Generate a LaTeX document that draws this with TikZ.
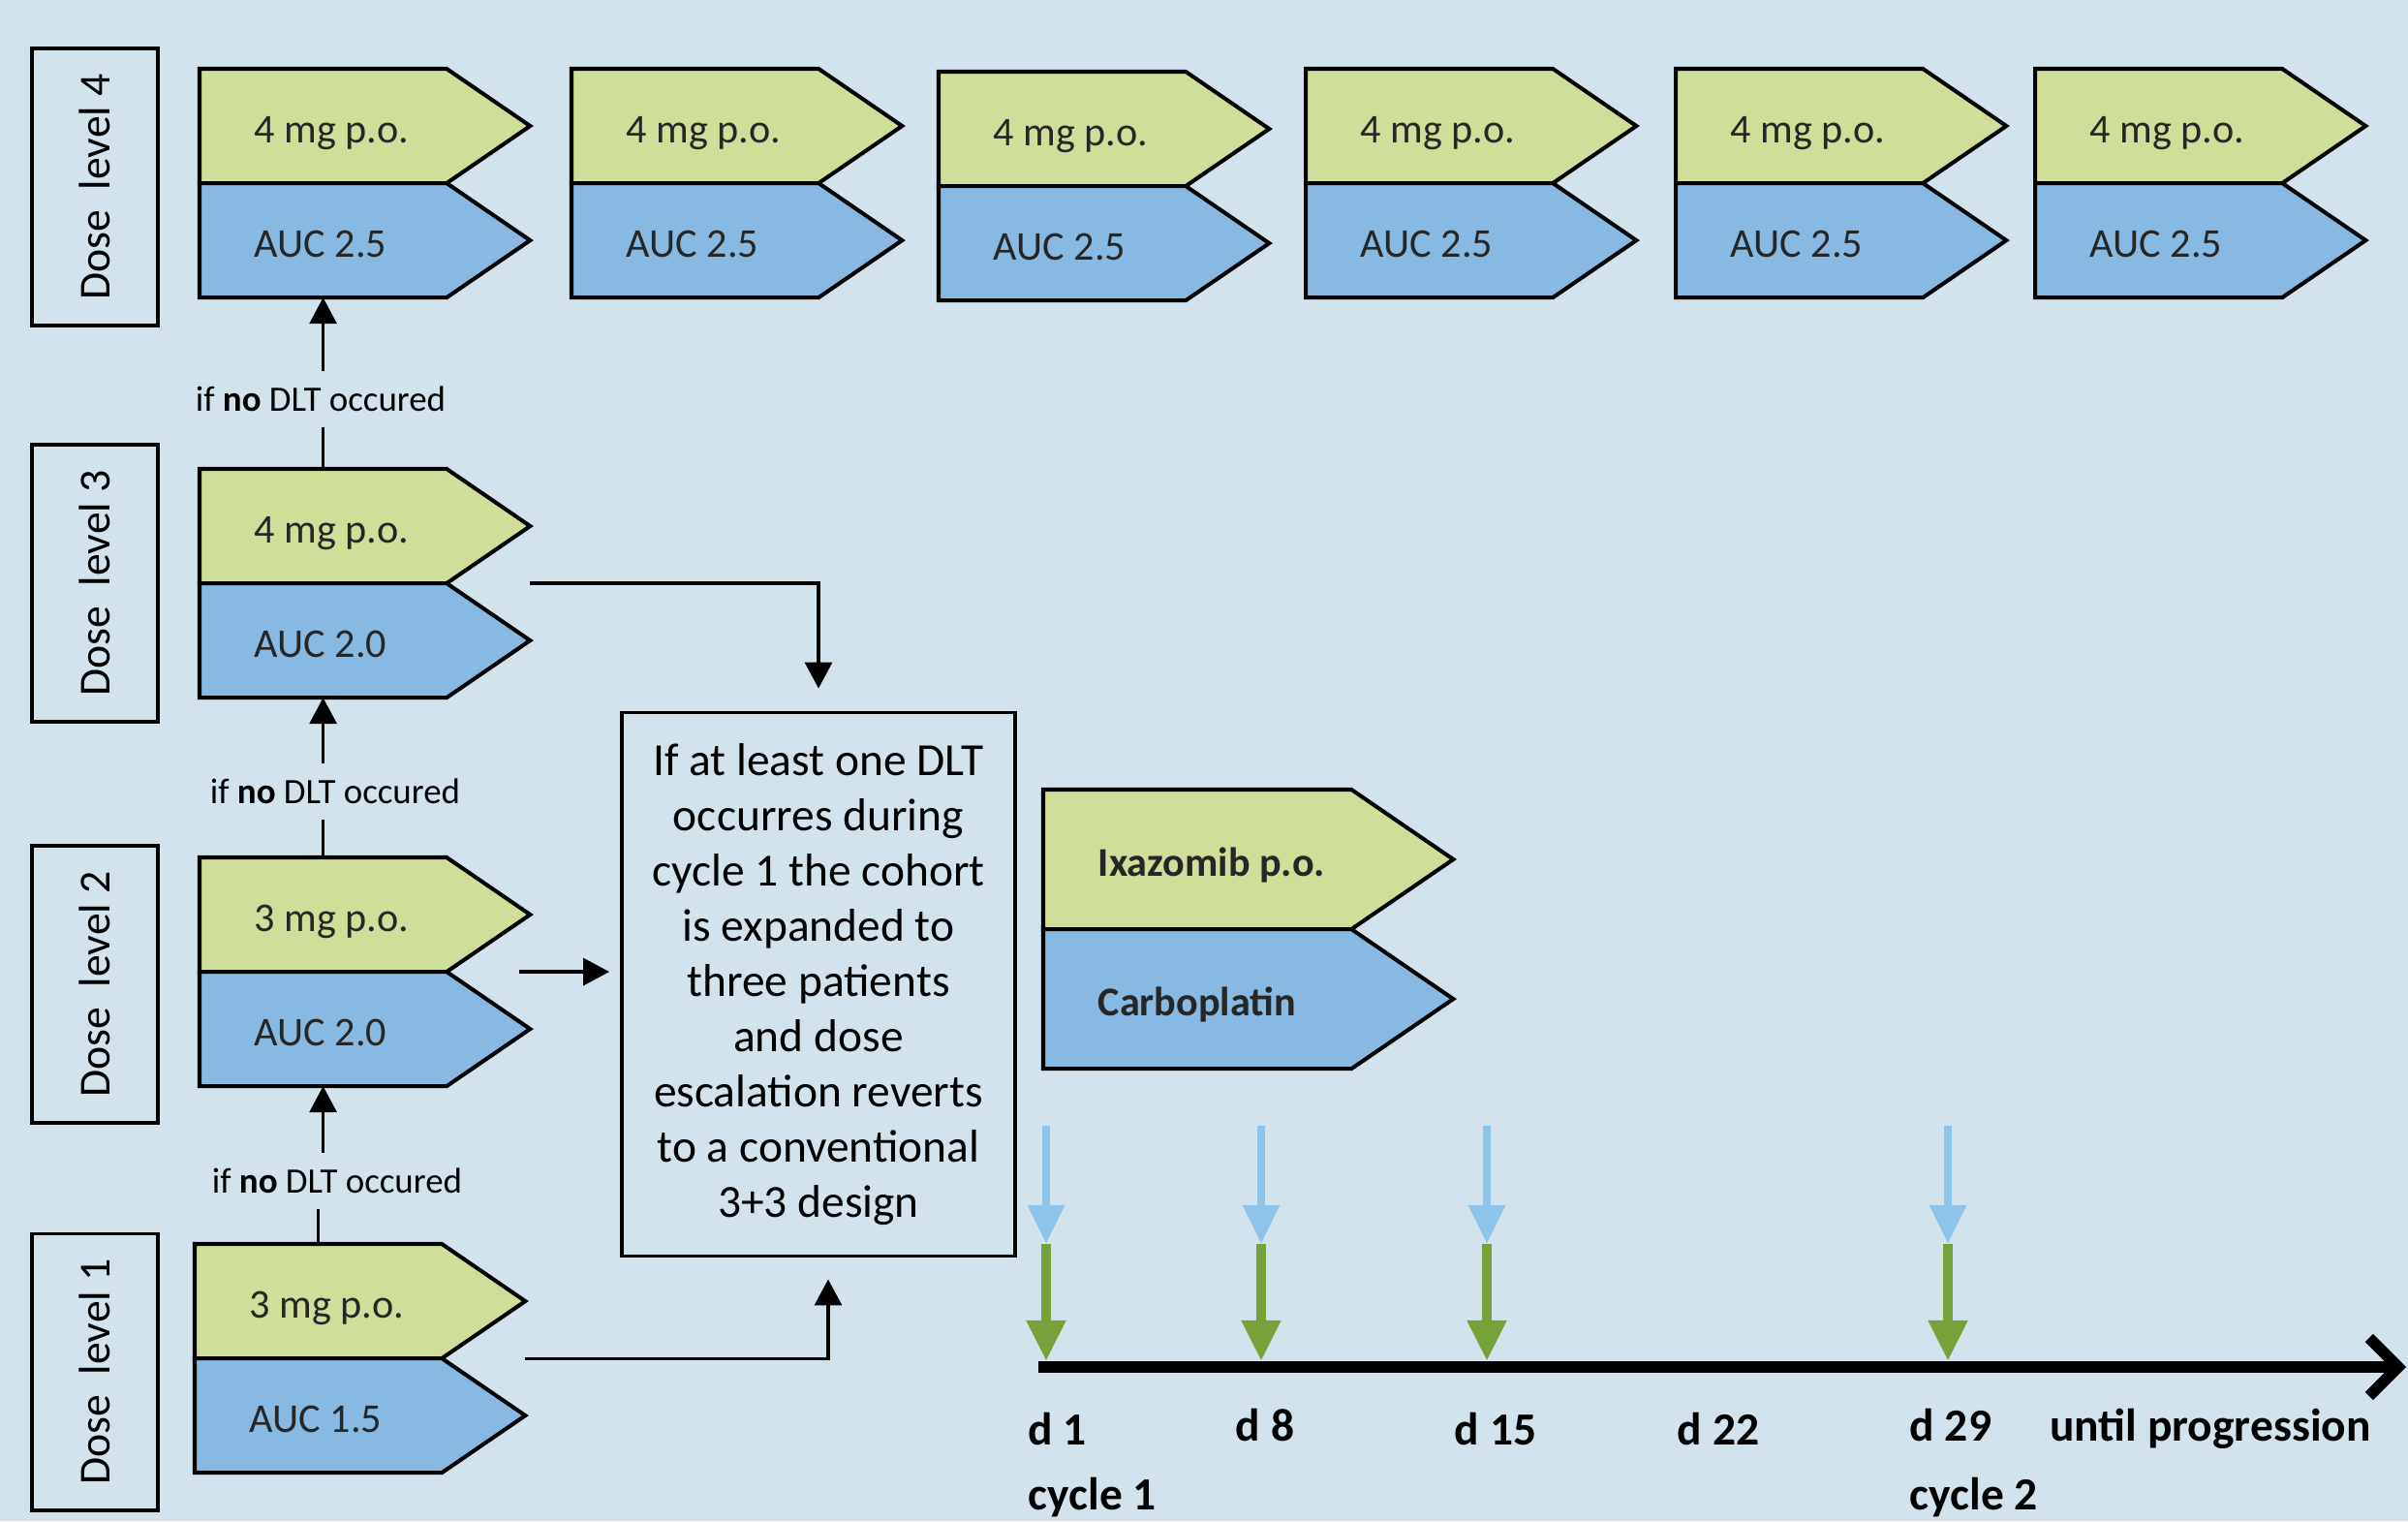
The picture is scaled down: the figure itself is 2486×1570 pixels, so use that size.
\documentclass[tikz,border=0pt]{standalone}
\usepackage{fontspec}
\setmainfont{Carlito}
\usetikzlibrary{positioning,calc,arrows.meta}

\definecolor{bgblue}{HTML}{D3E3EE}
\definecolor{pogreen}{HTML}{CFDF9A}
\definecolor{aucblue}{HTML}{87B9E2}
\definecolor{dayblue}{HTML}{8EC4EA}
\definecolor{daygreen}{HTML}{77A13A}

% half of a dose arrow: body node, pointed tip, text
\newcommand{\lane}[5][]{%
  \node[lanebody, fill=#3, #1] (#2) #4 {};
  \fill[#3] ([xshift=-0.02cm]#2.north east) -- ($(#2.east)!1.46!-90:(#2.north east)$) -- ([xshift=-0.02cm]#2.south east) -- cycle;
  \draw[laneline] (#2.north west) -- (#2.north east) -- ($(#2.east)!1.46!-90:(#2.north east)$) -- (#2.south east) -- (#2.south west) -- cycle;
  \node[lanetext] (#2-t) at ([xshift=0.56cm, yshift=-0.17cm]#2.west) {#5};
}

\begin{document}
\begin{tikzpicture}[x=0.01cm, y=-0.01cm]
		\tikzstyle{lanebody} = [minimum width=2.55cm, minimum height=1.18cm, inner sep=0, outer sep=0, anchor=north west]
		\tikzstyle{laneline} = [line width=1.15pt, line join=miter]
		\tikzstyle{lanetext} = [anchor=base west, inner sep=0, text=black!85, font=\fontsize{12}{14}\selectfont]
		\tikzstyle{legend} = [minimum width=3.18cm, minimum height=1.44cm]
		\tikzstyle{levelbox} = [draw, line width=1.1pt, rotate=90, minimum width=2.85cm, minimum height=1.30cm, inner sep=0, font=\fontsize{13}{15}\selectfont]
		\tikzstyle{ifno} = [inner xsep=0, inner ysep=0.15cm, font=\fontsize{10.5}{12}\selectfont]
		\tikzstyle{rulebox} = [draw, line width=1pt, minimum width=4.06cm, minimum height=5.61cm, align=center, font=\fontsize{13.5}{16.2}\selectfont]
		\tikzstyle{link} = [line width=0.9pt]
		\tikzstyle{flow} = [link, -{Triangle[length=0.27cm, width=0.28cm]}]
		\tikzstyle{timeline} = [line width=3.3pt, -{Straight Barb[length=0.3cm, width=0.6cm]}]
		\tikzstyle{carbodose} = [draw=dayblue, line width=2.5pt, -{Triangle[length=0.4cm, width=0.36cm]}]
		\tikzstyle{ixadose} = [draw=daygreen, line width=3pt, -{Triangle[length=0.42cm, width=0.38cm]}]
		\tikzstyle{day} = [inner sep=0, font=\fontsize{13.5}{16}\selectfont\bfseries]

		\fill[bgblue] (0,0) rectangle (2486,1570);
		\useasboundingbox (0,0) rectangle (2486,1570);

		% Dose level boxes
		\node[levelbox] (lvl4) at (98,193) {Dose~~level 4};
		\node[levelbox] (lvl3) at (98,602) {Dose~~level 3};
		\node[levelbox] (lvl2) at (98,1016) {Dose~~level 2};
		\node[levelbox] (lvl1) at (98,1416) {Dose~~level 1};

		% Dose level 4, all cycles
		\foreach \c/\x/\y in {1/206/71, 2/590/71, 3/969/74, 4/1348/71, 5/1730/71, 6/2101/71}{
			\lane{dose4-\c}{pogreen}{at (\x,\y)}{4 mg p.o.}
			\lane{auc4-\c}{aucblue}{[below=0pt of dose4-\c]}{AUC 2.5}
		}

		% Dose levels 3 to 1
		\lane{dose3}{pogreen}{at (206,484)}{4 mg p.o.}
		\lane{auc3}{aucblue}{[below=0pt of dose3]}{AUC 2.0}
		\lane{dose2}{pogreen}{at (206,885)}{3 mg p.o.}
		\lane{auc2}{aucblue}{[below=0pt of dose2]}{AUC 2.0}
		\lane{dose1}{pogreen}{at (201,1284)}{3 mg p.o.}
		\lane{auc1}{aucblue}{[below=0pt of dose1]}{AUC 1.5}

		% Legend
		\lane[legend]{ixa}{pogreen}{at (1077,815)}{\textbf{Ixazomib p.o.}}
		\lane[legend]{carbo}{aucblue}{[below=0pt of ixa]}{\textbf{Carboplatin}}

		% Escalation
		\node[ifno] (if34) at (331,412) {if \textbf{no} DLT occured};
		\node[ifno] (if23) at (346,817) {if \textbf{no} DLT occured};
		\node[ifno] (if12) at (348,1219) {if \textbf{no} DLT occured};
		\draw[link] (dose1.north) -- (dose1.north |- if12.south);
		\draw[flow] (auc2.south |- if12.north) -- (auc2.south);
		\draw[link] (dose2.north) -- (dose2.north |- if23.south);
		\draw[flow] (auc3.south |- if23.north) -- (auc3.south);
		\draw[link] (dose3.north) -- (dose3.north |- if34.south);
		\draw[flow] (auc4-1.south |- if34.north) -- (auc4-1.south);

		% DLT rule
		\node[rulebox] (rule) at (845,1016) {If at least one DLT\\ occurres during\\ cycle 1 the cohort\\ is expanded to\\ three patients\\ and dose\\ escalation reverts\\ to a conventional\\ 3+3 design};
		\draw[flow] ([xshift=0.86cm]dose3.south east) -| ([yshift=0.23cm]rule.north);
		\draw[flow, shorten >=0.11cm] ([xshift=0.75cm]dose2.south east) -- (rule.west |- dose2.south);
		\draw[flow] ([xshift=0.86cm]dose1.south east) -| ([xshift=0.1cm, yshift=-0.22cm]rule.south);

		% Schedule
		\coordinate (t0) at (1072,1411);
		\coordinate (t1) at (2484,1411);
		\draw[timeline] (t0) -- (t1);
		\foreach \d/\x in {1/1080, 8/1302, 15/1535, 29/2011}{
			\coordinate (cb\d) at (\x,1162);
			\coordinate (cm\d) at (\x,1284);
			\coordinate (ce\d) at (\x,1405);
			\draw[carbodose] (cb\d) -- (cm\d);
			\draw[ixadose] (cm\d) -- (ce\d);
		}
		\node[day, anchor=west] (d1) at (1061,1475) {d 1};
		\node[day] (d8) at (1306,1471) {d 8};
		\node[day] (d15) at (1544,1475) {d 15};
		\node[day] (d22) at (1774,1475) {d 22};
		\node[day, anchor=west] (d29) at (1971,1471) {d 29};
		\node[day] (until) at (2282,1475) {until progression};
		\node[day, anchor=west] (cyc1) at (1061,1546) {cycle 1};
		\node[day, anchor=west] (cyc2) at (1971,1546) {cycle 2};

		\end{tikzpicture}
\end{document}
